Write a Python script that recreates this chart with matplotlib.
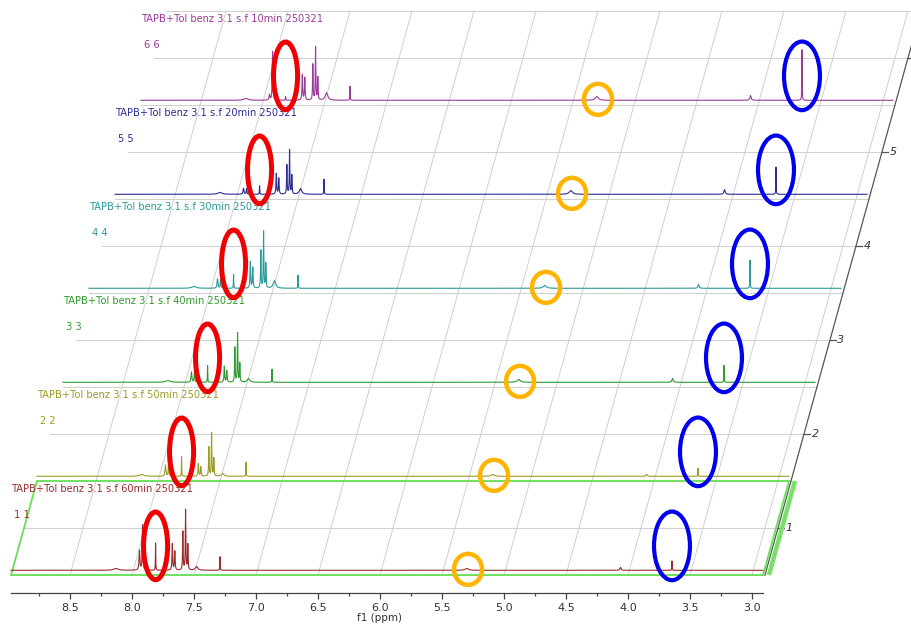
import numpy as np
import matplotlib
matplotlib.use("Agg")
import matplotlib.pyplot as plt
from matplotlib.patches import Ellipse, Polygon
from matplotlib.ticker import MultipleLocator, FormatStrFormatter

# ---- experiments (bottom trace first) ----
titles = [
    "TAPB+Tol benz 3.1 s.f 60min 250321",
    "TAPB+Tol benz 3.1 s.f 50min 250321",
    "TAPB+Tol benz 3.1 s.f 40min 250321",
    "TAPB+Tol benz 3.1 s.f 30min 250321",
    "TAPB+Tol benz 3.1 s.f 20min 250321",
    "TAPB+Tol benz 3.1 s.f 10min 250321",
]
exp_ids = ["1 1", "2 2", "3 3", "4 4", "5 5", "6 6"]
trace_colors = ["#992b2b", "#9c9c25", "#2f9a2f", "#2a9a9a", "#2d2d96", "#9c3a9c"]

# ---- peak table (ppm, half width at half height in ppm) ----
peak_ppm = [8.13, 7.94, 7.915, 7.81, 7.675, 7.655, 7.59, 7.568, 7.55, 7.48, 7.29, 5.30, 4.06, 3.645]
peak_hwhm = [0.02, 0.004, 0.003, 0.0015, 0.003, 0.003, 0.0025, 0.0025, 0.0025, 0.012, 0.0015, 0.015, 0.006, 0.0015]

# peak heights (in stack units) for each experiment
heights_60min = [0.02, 0.21, 0.48, 0.29, 0.28, 0.20, 0.41, 0.64, 0.27, 0.04, 0.145, 0.02, 0.03, 0.10]
heights_50min = [0.02, 0.12, 0.12, 0.21, 0.135, 0.10, 0.31, 0.46, 0.19, 0.03, 0.15, 0.02, 0.02, 0.085]
heights_40min = [0.02, 0.11, 0.11, 0.18, 0.17, 0.12, 0.37, 0.52, 0.20, 0.04, 0.14, 0.03, 0.04, 0.18]
heights_30min = [0.02, 0.10, 0.10, 0.15, 0.28, 0.22, 0.40, 0.60, 0.26, 0.08, 0.14, 0.03, 0.04, 0.30]
heights_20min = [0.02, 0.064, 0.06, 0.09, 0.22, 0.17, 0.31, 0.47, 0.20, 0.06, 0.16, 0.04, 0.05, 0.29]
heights_10min = [0.02, 0.06, 0.52, 0.04, 0.27, 0.24, 0.38, 0.56, 0.24, 0.08, 0.15, 0.04, 0.05, 0.54]
all_heights = [heights_60min, heights_50min, heights_40min,
               heights_30min, heights_20min, heights_10min]

# ---- highlighted signals (ppm, centre above baseline, width ppm, height units, colour, lw) ----
marks_ppm = [7.81, 5.29, 3.645]
marks_dz = [0.26, 0.01, 0.26]
marks_w = [0.194, 0.226, 0.29]
marks_h = [0.72, 0.33, 0.73]
marks_color = ["#f00000", "#ffb400", "#0000ee"]
marks_lw = [3.6, 3.2, 3.0]

z_ticks = [1, 2, 3, 4, 5, 6]
z_tick_labels = ["1", "2", "3", "4", "5", ""]

# ---- stacked plot geometry ----
PL, PR = 8.976, 2.911          # ppm span of each spectrum / bottom axis
PR_AXIS = 2.895                # right (stack) axis position at the base
SHEAR = 26.0 / 124.0           # horizontal ppm offset per stack unit
Z0 = 0.5                       # base of the stacking frame
ZTOP = 6.5
BASE0 = 0.55                   # baseline of the first spectrum


def sx(ppm, z):
    return np.asarray(ppm) - SHEAR * (np.asarray(z) - Z0)


fig = plt.figure(figsize=(9.12, 6.27), dpi=100)
ax = fig.add_axes([11 / 912, (627 - 593) / 627, 752 / 912, (593 - 11) / 627])
ax.set_xlim(PL, PR)
ax.set_ylim((622 - 593) / 94, ZTOP)

for side in ("left", "right", "top"):
    ax.spines[side].set_visible(False)
ax.spines["bottom"].set_color("#444444")
ax.spines["bottom"].set_linewidth(0.9)
ax.set_yticks([])
ax.xaxis.set_major_locator(MultipleLocator(0.5))
ax.xaxis.set_minor_locator(MultipleLocator(0.25))
ax.xaxis.set_major_formatter(FormatStrFormatter("%.1f"))
ax.tick_params(axis="x", which="major", length=4, width=0.9, color="#444444",
               labelsize=8, labelcolor="#333333", pad=3)
ax.tick_params(axis="x", which="minor", length=2.5, width=0.9, color="#444444")
ax.set_xlabel("f1 (ppm)", fontsize=7.5, color="#333333", labelpad=1.5)
ax.xaxis.set_label_coords(0.49, -0.035)

grid_kw = dict(color="#cfcfcf", lw=0.7, clip_on=False, zorder=1)

# slanted ppm grid lines
for p in np.arange(8.5, 2.9, -0.5):
    ax.plot(sx([p, p], [Z0, ZTOP]), [Z0, ZTOP], **grid_kw)

# horizontal stack grid lines
for z in np.arange(Z0, ZTOP + 0.01, 0.5):
    ax.plot(sx([PL, PR_AXIS], [z, z]), [z, z], **grid_kw)

# right stack axis
ax.plot(sx([PR_AXIS, PR_AXIS], [Z0, ZTOP]), [Z0, ZTOP], color="#555555",
        lw=0.9, clip_on=False, zorder=2)
tick_len = 6 / 124
for zt, zl in zip(z_ticks, z_tick_labels):
    x0 = float(sx(PR_AXIS, zt))
    ax.plot([x0, x0 - tick_len], [zt, zt], color="#555555", lw=0.9,
            clip_on=False, zorder=2)
    if zl:
        ax.text(x0 - tick_len - 1.5 / 124, zt, zl, fontsize=8, style="italic",
                color="#333333", ha="left", va="center", clip_on=False)

# selection frame around the first spectrum
sel = Polygon([(float(sx(PL, Z0)), Z0), (float(sx(PR, Z0)), Z0),
               (float(sx(PR, Z0 + 1)), Z0 + 1), (float(sx(PL, Z0 + 1)), Z0 + 1)],
              closed=True, fill=False, edgecolor="#66e055", lw=1.3,
              clip_on=False, zorder=2)
ax.add_patch(sel)
pbar = PR_AXIS - 4 / 124
ax.plot(sx([pbar, pbar], [Z0, Z0 + 1]), [Z0, Z0 + 1], color="#77e066",
        lw=3.2, clip_on=False, zorder=2, solid_capstyle="butt")

# spectra
ppm = np.linspace(PL, PR, 30000)
for i, (heights, col) in enumerate(zip(all_heights, trace_colors)):
    base = BASE0 + i
    shift = SHEAR * i
    inten = np.zeros_like(ppm)
    for p, w, h in zip(peak_ppm, peak_hwhm, heights):
        inten += h / (1.0 + ((ppm - p) / w) ** 2)
    ax.plot(ppm - shift, base + inten, color=col, lw=0.8, clip_on=False, zorder=3)

    ax.text(PL - shift, base + 0.865, titles[i], fontsize=7.1, color=col,
            ha="left", va="center", clip_on=False, zorder=4)
    ax.text(PL - shift - 3 / 124, base + 0.59, exp_ids[i], fontsize=7.1,
            color=col, ha="left", va="center", clip_on=False, zorder=4)

    for mp, dz, mw, mh, mc, mlw in zip(marks_ppm, marks_dz, marks_w, marks_h,
                                       marks_color, marks_lw):
        ax.add_patch(Ellipse((mp - shift, base + dz), mw, mh, fill=False,
                             edgecolor=mc, lw=mlw, clip_on=False, zorder=5))

fig.savefig("out.png", dpi=100)
